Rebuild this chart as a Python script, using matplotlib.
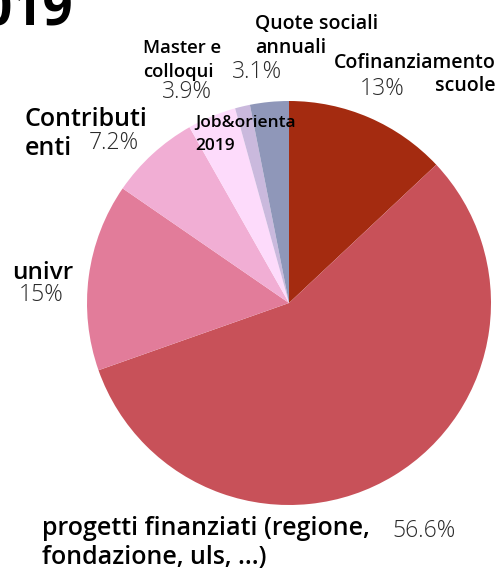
import matplotlib
matplotlib.use("Agg")
import matplotlib.pyplot as plt

labels = ["Cofinanziamento\nscuole", "progetti finanziati (regione,\nfondazione, uls, ...)",
          "univr", "Contributi\nenti", "Master e\ncolloqui", "Job&orienta\n2019",
          "Quote sociali\nannuali"]
values = [13, 56.6, 15, 7.2, 3.9, 1.2, 3.1]
pct_text = ["13%", "56.6%", "15%", "7.2%", "3.9%", "", "3.1%"]
colors = ["#A42B10", "#C85159", "#E27C9A", "#F1AED4", "#FDDBFB", "#CAB9DD", "#8F97B9"]

W, H = 502, 570
fig = plt.figure(figsize=(W / 100, H / 100), dpi=100)

def fx(x):
    return x / W

def fy(y):
    return 1 - y / H

# pie centre (289, 303), radius 202 px
cx, cy, r = 289, 303, 202
ax = fig.add_axes([fx(cx - r), fy(cy + r), 2 * r / W, 2 * r / H])
ax.pie(values, colors=colors, startangle=90, counterclock=False,
       wedgeprops=dict(linewidth=0))
ax.set_xlim(-1, 1)
ax.set_ylim(-1, 1)
ax.set_aspect("auto")
ax.axis("off")

lab = dict(family="Open Sans", weight="semibold", color="black")
pct = dict(family="Open Sans", weight="light", color="#2a2a2a", fontsize=16.5)

# title, clipped at the left and top edges
fig.text(fx(74), fy(25), "2019", ha="right", va="baseline", fontsize=38,
         family="Open Sans", weight="bold")

# x, baselines of each line (px), alignment, size
spots = [
    (496, [68, 91], "right", 14),
    (42, [535, 564], "left", 18),
    (12, [279], "left", 17.5),
    (25, [126, 155], "left", 18),
    (143, [53, 77], "left", 13.3),
    (195, [127, 150], "left", 12.5),
    (255, [29, 53], "left", 14),
]
pct_spots = [(382, 89), (424, 531), (41, 295), (114, 143), (187, 92), (0, 0), (257, 72)]

for i in range(len(labels)):
    x, bases, ha, fs = spots[i]
    for line, yb in zip(labels[i].split("\n"), bases):
        fig.text(fx(x), fy(yb), line, ha=ha, va="baseline", fontsize=fs, **lab)
    if pct_text[i]:
        px, py = pct_spots[i]
        fig.text(fx(px), fy(py), pct_text[i], ha="center", va="center", **pct)

fig.savefig("out.png", dpi=100)
